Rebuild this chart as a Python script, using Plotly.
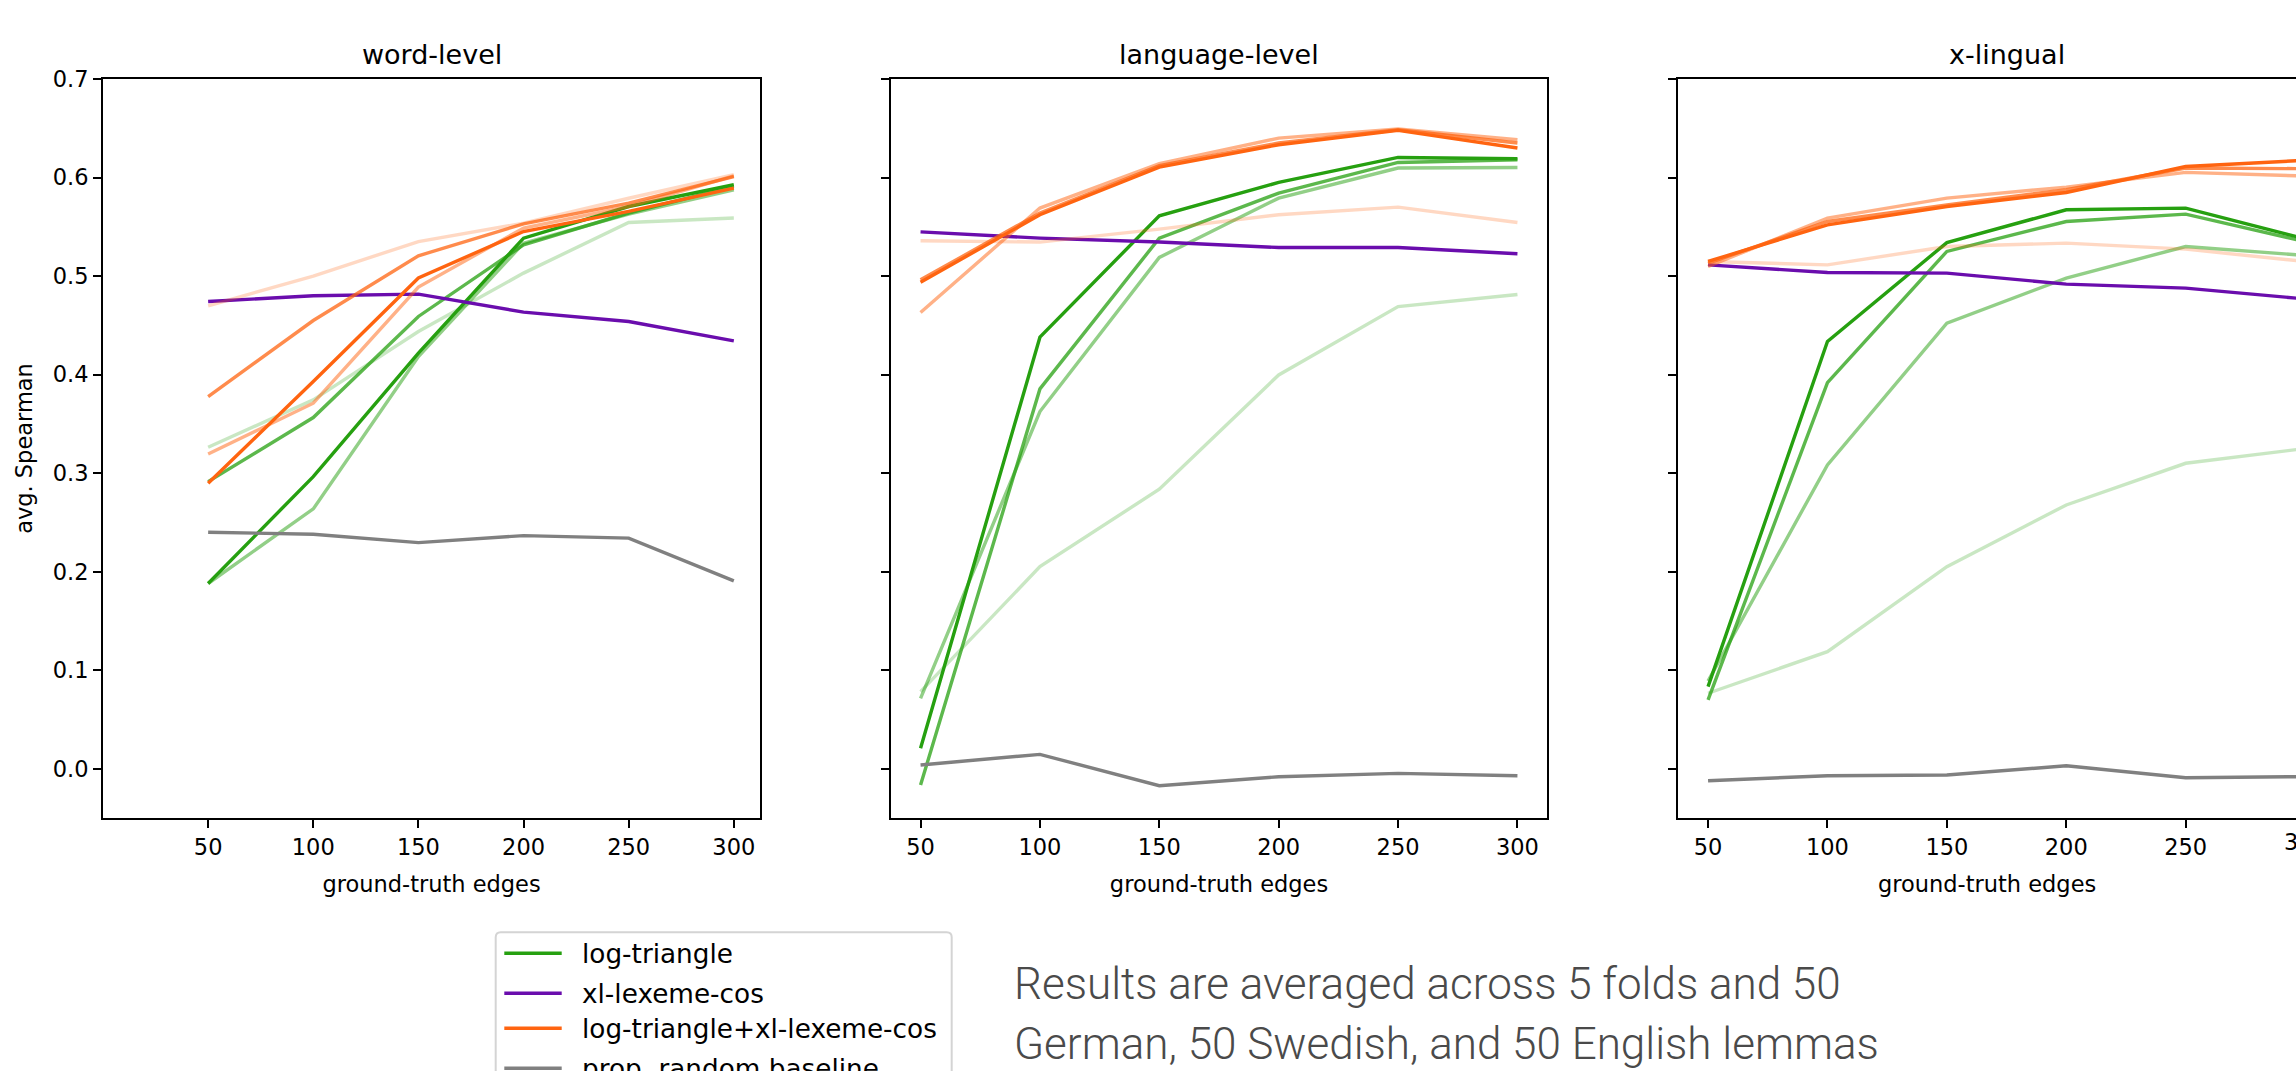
import plotly.graph_objects as go

# ---------------- data ----------------
x_edges = [50, 100, 150, 200, 250, 300]
panel_titles = ["word-level", "language-level", "x-lingual"]
methods = ["log-triangle", "xl-lexeme-cos", "log-triangle+xl-lexeme-cos", "prop. random baseline"]
shade_alphas = [1.0, 0.75, 0.5, 0.25]

# log-triangle, four settings (darkest -> lightest)
logtri_word = [
    [0.188, 0.2965, 0.4217, 0.5385, 0.5706, 0.5927],
    [0.2914, 0.3564, 0.459, 0.5317, 0.564, 0.591],
    [0.188, 0.2637, 0.4184, 0.5334, 0.563, 0.5876],
    [0.3263, 0.3744, 0.4437, 0.503, 0.5544, 0.5589],
]
logtri_lang = [
    [0.0207, 0.438, 0.5612, 0.595, 0.6204, 0.619],
    [-0.0166, 0.3855, 0.5385, 0.5842, 0.6153, 0.618],
    [0.0715, 0.3625, 0.5189, 0.5791, 0.6096, 0.6102],
    [0.0782, 0.2051, 0.2837, 0.3997, 0.469, 0.4813],
]
logtri_xling = [
    [0.0833, 0.4336, 0.534, 0.5673, 0.569, 0.5377],
    [0.0698, 0.3919, 0.525, 0.5554, 0.5629, 0.535],
    [0.089, 0.3084, 0.4522, 0.498, 0.530, 0.521],
    [0.0766, 0.1188, 0.2051, 0.2677, 0.310, 0.325],
]

# log-triangle + xl-lexeme-cos, four settings (darkest -> lightest)
combo_word = [
    [0.2898, 0.393, 0.498, 0.5452, 0.5656, 0.5893],
    [0.3777, 0.4549, 0.5206, 0.553, 0.574, 0.601],
    [0.3195, 0.371, 0.4888, 0.5487, 0.5706, 0.6018],
    [0.4698, 0.500, 0.535, 0.5537, 0.579, 0.6028],
]
combo_lang = [
    [0.4938, 0.5622, 0.6106, 0.6333, 0.6478, 0.630],
    [0.4962, 0.564, 0.612, 0.635, 0.6485, 0.635],
    [0.463, 0.569, 0.614, 0.640, 0.6492, 0.6383],
    [0.5358, 0.5345, 0.5477, 0.5622, 0.570, 0.5544],
]
combo_xling = [
    [0.5148, 0.552, 0.5706, 0.5848, 0.6112, 0.6175],
    [0.513, 0.5554, 0.5723, 0.5876, 0.6096, 0.609],
    [0.5097, 0.5589, 0.5791, 0.5903, 0.6052, 0.6015],
    [0.5148, 0.5114, 0.530, 0.5334, 0.5273, 0.5148],
]

xlexeme_word = [0.4742, 0.480, 0.4817, 0.4634, 0.4539, 0.4343]
xlexeme_lang = [0.5449, 0.5385, 0.5345, 0.529, 0.529, 0.5226]
xlexeme_xling = [0.5114, 0.5036, 0.503, 0.4918, 0.4878, 0.4768]

random_word = [0.240, 0.238, 0.2295, 0.2366, 0.234, 0.1906]
random_lang = [0.0038, 0.0146, -0.0172, -0.0081, -0.0047, -0.0071]
random_xling = [-0.0122, -0.0071, -0.0064, 0.003, -0.0091, -0.008]

y_ticks = [0.0, 0.1, 0.2, 0.3, 0.4, 0.5, 0.6, 0.7]
footer_lines = ["Results are averaged across 5 folds and 50",
                "German, 50 Swedish, and 50 English lemmas"]

# ---------------- style ----------------
GREEN = (38, 160, 16)
PURPLE = (106, 13, 173)
ORANGE = (255, 100, 16)
GRAY = (128, 128, 128)
LW = 3.4
FONT = "DejaVu Sans"

W, H = 2296, 1071
ML, MT, MB = 103, 79, 253
PW, PH = W - ML, H - MT - MB


def rgba(c, a=1.0):
    return f"rgba({c[0]},{c[1]},{c[2]},{a})"


def px_x(p):
    return (p - ML) / PW


def px_y(p):
    return 1 - (p - MT) / PH


domains = [[0.0, px_x(760.1)], [px_x(890.7), px_x(1547.3)], [px_x(1678.2), 1.0]]
x_ranges = [[0, 312.5], [37.5, 312.5], [37.5, 296.2]]

logtri = [logtri_word, logtri_lang, logtri_xling]
combo = [combo_word, combo_lang, combo_xling]
xlexeme = [xlexeme_word, xlexeme_lang, xlexeme_xling]
randb = [random_word, random_lang, random_xling]

fig = go.Figure()
for i in range(3):
    xa = "x" if i == 0 else f"x{i+1}"
    ya = "y" if i == 0 else f"y{i+1}"
    for k in range(3, -1, -1):
        fig.add_trace(go.Scatter(x=x_edges, y=logtri[i][k], mode="lines", xaxis=xa, yaxis=ya,
                                 line=dict(color=rgba(GREEN, shade_alphas[k]), width=LW),
                                 name=methods[0], legendgroup=methods[0], showlegend=False))
    fig.add_trace(go.Scatter(x=x_edges, y=xlexeme[i], mode="lines", xaxis=xa, yaxis=ya,
                             line=dict(color=rgba(PURPLE), width=LW),
                             name=methods[1], showlegend=False))
    for k in range(3, -1, -1):
        fig.add_trace(go.Scatter(x=x_edges, y=combo[i][k], mode="lines", xaxis=xa, yaxis=ya,
                                 line=dict(color=rgba(ORANGE, shade_alphas[k]), width=LW),
                                 name=methods[2], legendgroup=methods[2], showlegend=False))
    fig.add_trace(go.Scatter(x=x_edges, y=randb[i], mode="lines", xaxis=xa, yaxis=ya,
                             line=dict(color=rgba(GRAY), width=LW),
                             name=methods[3], showlegend=False))

tickfont = dict(family=FONT, size=22.5, color="black")
axis_common = dict(showgrid=False, zeroline=False, showline=True, linecolor="black", linewidth=1.8,
                   ticks="outside", ticklen=8, tickwidth=1.8, tickcolor="black", tickfont=tickfont)

layout = dict(
    width=W, height=H,
    margin=dict(l=ML, r=0, t=MT, b=MB, pad=0, autoexpand=False),
    paper_bgcolor="white", plot_bgcolor="white",
    showlegend=False,
    font=dict(family=FONT, color="black"),
)
for i in range(3):
    sx = "xaxis" if i == 0 else f"xaxis{i+1}"
    sy = "yaxis" if i == 0 else f"yaxis{i+1}"
    layout[sx] = dict(axis_common, domain=domains[i], range=x_ranges[i],
                      tickvals=x_edges, ticktext=[str(v) for v in x_edges], mirror=True,
                      anchor="y" if i == 0 else f"y{i+1}",
                      title=dict(text="ground-truth edges", font=dict(family=FONT, size=22.5), standoff=17))
    layout[sy] = dict(axis_common, domain=[0, 1], range=[-0.05, 0.7], tickvals=y_ticks,
                      ticktext=[f"{v:.1f}" for v in y_ticks], showticklabels=(i == 0),
                      mirror=(i < 2), anchor="x" if i == 0 else f"x{i+1}")
layout["yaxis"]["title"] = dict(text="avg. Spearman", font=dict(family=FONT, size=22.5), standoff=14)
fig.update_layout(**layout)

annotations = []
for i in range(3):
    annotations.append(dict(text=panel_titles[i], xref="paper", yref="paper",
                            x=(domains[i][0] + domains[i][1]) / 2 if i < 2 else px_x(1678.2 + 328.5),
                            y=1, yanchor="bottom", xanchor="center", yshift=7, showarrow=False,
                            font=dict(family=FONT, size=27, color="black")))
# partially visible last tick label of the cropped third panel
annotations.append(dict(text="300", xref="paper", yref="paper", x=px_x(2305.3), y=px_y(842),
                        xanchor="center", yanchor="middle", showarrow=False, font=tickfont))

# footer note
for line, yc in zip(footer_lines, [984, 1044]):
    annotations.append(dict(text=line, xref="paper", yref="paper", x=px_x(1012), y=px_y(yc),
                            xanchor="left", yanchor="middle", showarrow=False,
                            font=dict(family="Roboto", size=44, color="#4a4a4a", weight=300)))

# legend (matplotlib-style box below the first panels)
leg_colors = [GREEN, PURPLE, ORANGE, GRAY]
leg_y = [953.3, 993.3, 1028.3, 1068.3]
shapes = []
x0, x1, yt, yb = px_x(495.7), px_x(951.7), px_y(932.3), px_y(1110)
rx, ry = 5 / PW, 5 / PH
path = (f"M {x0+rx},{yt} L {x1-rx},{yt} Q {x1},{yt} {x1},{yt-ry} L {x1},{yb+ry} "
        f"Q {x1},{yb} {x1-rx},{yb} L {x0+rx},{yb} Q {x0},{yb} {x0},{yb+ry} L {x0},{yt-ry} "
        f"Q {x0},{yt} {x0+rx},{yt} Z")
shapes.append(dict(type="path", path=path, xref="paper", yref="paper",
                   line=dict(color="#d4d4d4", width=2), fillcolor="rgba(255,255,255,0.8)", layer="above"))
for lbl, c, yy in zip(methods, leg_colors, leg_y):
    shapes.append(dict(type="line", xref="paper", yref="paper", x0=px_x(504.3), x1=px_x(561.7),
                       y0=px_y(yy), y1=px_y(yy), line=dict(color=rgba(c), width=LW), layer="above"))
    annotations.append(dict(text=lbl, xref="paper", yref="paper", x=px_x(580), y=px_y(yy + 1),
                            xanchor="left", yanchor="middle", showarrow=False,
                            font=dict(family=FONT, size=26.3, color="black")))

fig.update_layout(annotations=annotations, shapes=shapes)

fig.write_html("out.html", config={"displayModeBar": False},
               post_script="document.body.style.margin='0px';document.body.style.overflow='hidden';")
